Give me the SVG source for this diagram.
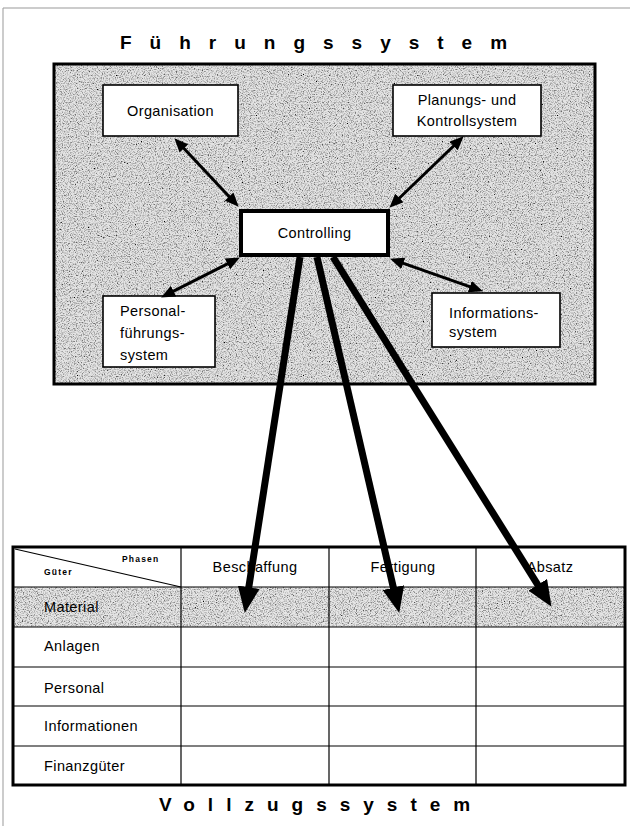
<svg xmlns="http://www.w3.org/2000/svg" width="630" height="826" viewBox="0 0 630 826">
<style>
.lbl{font-family:"Liberation Sans",Arial,sans-serif;font-size:14.5px;letter-spacing:0.4px;fill:#000}
.mid{text-anchor:middle}
.title{font-family:"Liberation Sans",Arial,sans-serif;font-size:19px;font-weight:bold;fill:#000}
.small{font-family:"Liberation Sans",Arial,sans-serif;font-size:8.5px;font-weight:bold;letter-spacing:1.2px;fill:#000}
.node{fill:#fff;stroke:#000;stroke-width:1.6}
.thin{stroke:#000;stroke-width:3;fill:none;marker-start:url(#hs);marker-end:url(#hs)}
.thick{stroke:#000;stroke-width:7;fill:none;marker-end:url(#hb)}
.grid{stroke:#000;stroke-width:1.2;fill:none}
</style>
<defs>
<filter id="grain" x="0" y="0" width="1" height="1">
<feTurbulence type="fractalNoise" baseFrequency="0.85" numOctaves="2" seed="7" result="n"/>
<feColorMatrix in="n" type="matrix" values="0 0 0 0 0  0 0 0 0 0  0 0 0 0 0  2.4 0 0 0 -1.05" result="dots"/>
<feComposite in="dots" in2="SourceGraphic" operator="in" result="clip"/>
<feComposite in="clip" in2="SourceGraphic" operator="over"/>
</filter>
<marker id="hs" markerUnits="userSpaceOnUse" markerWidth="14" markerHeight="12" viewBox="0 0 14 12" refX="5" refY="6" orient="auto-start-reverse">
<path d="M0,0 L14,6 L0,12 z" fill="#000"/>
</marker>
<marker id="hb" markerUnits="userSpaceOnUse" markerWidth="26" markerHeight="22" viewBox="0 0 26 22" refX="9" refY="11" orient="auto">
<path d="M0,0 L26,11 L0,22 z" fill="#000"/>
</marker>
</defs>

<g id="page-border">
<path d="M3,826 V8 H630" stroke="#999" stroke-width="1" fill="none"/>
</g>

<g id="title-top">
<text class="title" x="120" y="49" letter-spacing="18">Führungssystem</text>
</g>

<g id="fuehrungssystem">
<rect x="54" y="64" width="541" height="320" fill="#e4e4e4" filter="url(#grain)"/>
<rect x="54" y="64" width="541" height="320" fill="none" stroke="#000" stroke-width="3"/>
</g>

<g id="organisation">
<rect class="node" x="103" y="85" width="135" height="51"/>
<text class="lbl mid" x="170.5" y="116">Organisation</text>
</g>
<g id="planung">
<rect class="node" x="393" y="85" width="148" height="51"/>
<text class="lbl mid" x="467" y="105">Planungs- und</text>
<text class="lbl mid" x="467" y="126">Kontrollsystem</text>
</g>
<g id="controlling">
<rect x="241" y="211" width="147" height="44" fill="#fff" stroke="#000" stroke-width="4"/>
<text class="lbl mid" x="314.5" y="238">Controlling</text>
</g>
<g id="personal">
<rect class="node" x="103" y="296" width="112" height="71"/>
<text class="lbl" x="120" y="316">Personal-</text>
<text class="lbl" x="120" y="338">führungs-</text>
<text class="lbl" x="120" y="360">system</text>
</g>
<g id="informationssystem">
<rect class="node" x="432" y="293" width="128" height="54"/>
<text class="lbl" x="449" y="318">Informations-</text>
<text class="lbl" x="449" y="337">system</text>
</g>

<g id="table">
<rect x="13" y="587" width="612" height="40" fill="#e6e6e6" filter="url(#grain)"/>
<g class="grid">
<line x1="181" y1="547" x2="181" y2="785"/>
<line x1="329" y1="547" x2="329" y2="785"/>
<line x1="476" y1="547" x2="476" y2="785"/>
<line x1="13" y1="587" x2="625" y2="587"/>
<line x1="13" y1="627" x2="625" y2="627"/>
<line x1="13" y1="667" x2="625" y2="667"/>
<line x1="13" y1="706" x2="625" y2="706"/>
<line x1="13" y1="746" x2="625" y2="746"/>
<line x1="15" y1="549" x2="181" y2="587"/>
</g>
<rect x="13" y="547" width="612" height="238" fill="none" stroke="#000" stroke-width="3"/>
<text class="small" x="122" y="562">Phasen</text>
<text class="small" x="44" y="575">Güter</text>
<text class="lbl mid" x="255" y="572">Beschaffung</text>
<text class="lbl mid" x="403" y="572">Fertigung</text>
<text class="lbl mid" x="550" y="572">Absatz</text>
<text class="lbl" x="44" y="612" font-size="15.5">Material</text>
<text class="lbl" x="44" y="651">Anlagen</text>
<text class="lbl" x="44" y="693">Personal</text>
<text class="lbl" x="44" y="731">Informationen</text>
<text class="lbl" x="44" y="771">Finanzgüter</text>
</g>

<g id="connectors">
<line class="thin" x1="180.5" y1="144.8" x2="232.5" y2="200.2"/>
<line class="thin" x1="457.2" y1="142.5" x2="395.8" y2="201.5"/>
<line class="thin" x1="169.1" y1="293.4" x2="231.9" y2="261.6"/>
<line class="thin" x1="398.5" y1="261.7" x2="474.5" y2="288.3"/>
<line class="thick" x1="300" y1="257" x2="247.4" y2="596.2"/>
<line class="thick" x1="317" y1="257" x2="395.4" y2="596.4"/>
<line class="thick" x1="333" y1="257" x2="542.5" y2="592.4"/>
</g>

<g id="title-bottom">
<text class="title" x="159" y="811" letter-spacing="13">Vollzugssystem</text>
</g>
</svg>
